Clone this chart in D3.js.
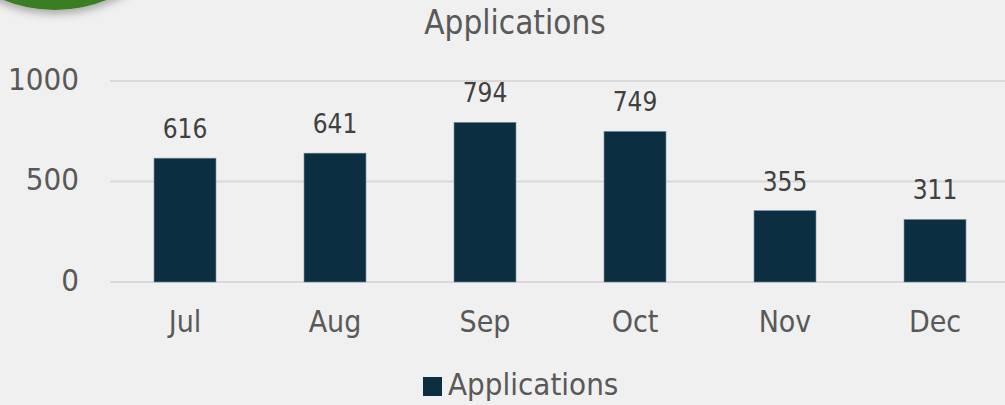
<!DOCTYPE html>
<html>
<head>
<meta charset="utf-8">
<style>
  body { margin: 0; background: #f0f0f0; }
  svg { display: block; }
  text { font-family: "DejaVu Sans Condensed", "DejaVu Sans", sans-serif; fill: #595959; }
</style>
</head>
<body>
<svg id="chart" width="1005" height="405"></svg>

<script src="https://d3js.org/d3.v7.min.js"></script>
<script>
  // data
  var months = ["Jul", "Aug", "Sep", "Oct", "Nov", "Dec"];
  var applications = [616, 641, 794, 749, 355, 311];
  var yTicks = [0, 500, 1000];

  var data = months.map(function (m, i) { return { month: m, value: applications[i] }; });

  var svg = d3.select("#chart");

  // decorative green badge peeking in at top-left
  var defs = svg.append("defs");
  var f = defs.append("filter").attr("id", "shadow")
    .attr("x", "-20%").attr("y", "-20%").attr("width", "140%").attr("height", "140%");
  f.append("feDropShadow").attr("dx", 0).attr("dy", 4).attr("stdDeviation", 4)
    .attr("flood-color", "#000").attr("flood-opacity", 0.3);
  svg.append("circle")
    .attr("cx", 55).attr("cy", -130).attr("r", 140)
    .attr("fill", "#3a7d22")
    .attr("filter", "url(#shadow)");

  // scales
  var x = d3.scaleBand()
    .domain(months)
    .range([110, 1010])
    .paddingInner(0.587)
    .paddingOuter(0.2935);

  var y = d3.scaleLinear()
    .domain([0, 1000])
    .range([282, 81]);

  // gridlines
  svg.append("g")
    .selectAll("line")
    .data(yTicks)
    .enter()
    .append("line")
    .attr("x1", 110).attr("x2", 1005)
    .attr("y1", function (d) { return y(d); })
    .attr("y2", function (d) { return y(d); })
    .attr("stroke", "#d9d9d9")
    .attr("stroke-width", 2);

  // y axis labels
  var yAxis = svg.append("g")
    .attr("transform", "translate(79,0)")
    .call(d3.axisLeft(y).tickValues(yTicks).tickFormat(d3.format("d")).tickSize(0).tickPadding(0));
  yAxis.select(".domain").remove();
  yAxis.selectAll("text")
    .attr("dy", "8px")
    .style("font-size", "31px")
    .style("font-family", "\"DejaVu Sans Condensed\", sans-serif")
    .attr("fill", "#595959");

  // bars
  svg.append("g")
    .selectAll("rect")
    .data(data)
    .enter()
    .append("rect")
    .attr("x", function (d) { return x(d.month); })
    .attr("width", x.bandwidth())
    .attr("y", function (d) { return y(d.value); })
    .attr("height", function (d) { return y(0) - y(d.value); })
    .attr("fill", "#0b2e40")
    .attr("stroke", "#6f8795")
    .attr("stroke-width", 0.6);

  // value labels
  svg.append("g")
    .selectAll("text")
    .data(data)
    .enter()
    .append("text")
    .attr("x", function (d) { return x(d.month) + x.bandwidth() / 2; })
    .attr("y", function (d) { return y(d.value) - 20; })
    .attr("text-anchor", "middle")
    .style("font-size", "26px")
    .style("fill", "#404040")
    .text(function (d) { return d.value; });

  // x axis labels
  var xAxis = svg.append("g")
    .attr("transform", "translate(0," + y(0) + ")")
    .call(d3.axisBottom(x).tickSize(0).tickPadding(0));
  xAxis.select(".domain").remove();
  xAxis.selectAll("text")
    .attr("dy", null)
    .attr("y", 50)
    .style("font-size", "30px")
    .style("font-family", "\"DejaVu Sans Condensed\", sans-serif")
    .attr("fill", "#595959");

  // title
  svg.append("text")
    .attr("x", 515).attr("y", 34)
    .attr("text-anchor", "middle")
    .style("font-size", "33px")
    .text("Applications");

  // legend
  var legend = svg.append("g");
  legend.append("rect")
    .attr("x", 423).attr("y", 377).attr("width", 19).attr("height", 19)
    .attr("fill", "#0b2e40");
  legend.append("text")
    .attr("x", 448).attr("y", 395)
    .style("font-size", "31px")
    .text("Applications");
</script>
</body>
</html>
